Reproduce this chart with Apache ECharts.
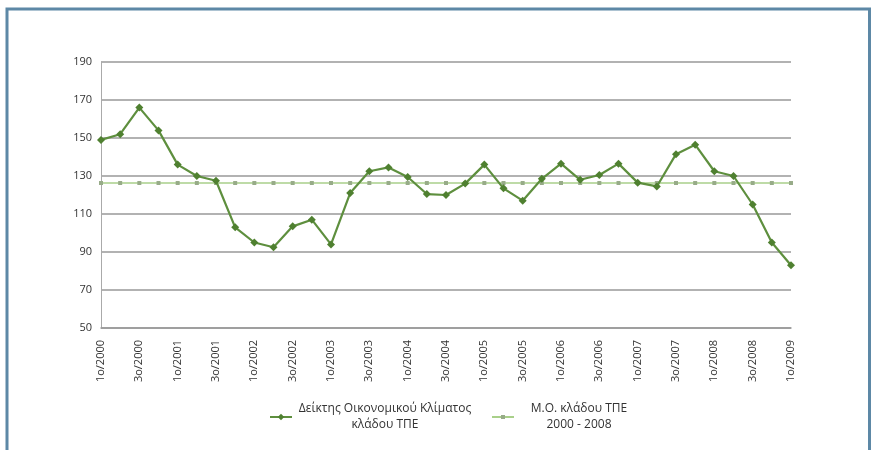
<!DOCTYPE html>
<html>
<head>
<meta charset="utf-8">
<script src="https://cdn.jsdelivr.net/npm/echarts@6/dist/echarts.min.js"></script>
<style>
  html, body { margin: 0; padding: 0; background: #fff; }
  #chart { width: 877px; height: 450px; }
</style>
</head>
<body>
<div id="chart"></div>
<script>
// quarters 1ο/2000 .. 1ο/2009
var quarters = [
  '1ο/2000', '2ο/2000', '3ο/2000', '4ο/2000',
  '1ο/2001', '2ο/2001', '3ο/2001', '4ο/2001',
  '1ο/2002', '2ο/2002', '3ο/2002', '4ο/2002',
  '1ο/2003', '2ο/2003', '3ο/2003', '4ο/2003',
  '1ο/2004', '2ο/2004', '3ο/2004', '4ο/2004',
  '1ο/2005', '2ο/2005', '3ο/2005', '4ο/2005',
  '1ο/2006', '2ο/2006', '3ο/2006', '4ο/2006',
  '1ο/2007', '2ο/2007', '3ο/2007', '4ο/2007',
  '1ο/2008', '2ο/2008', '3ο/2008', '4ο/2008',
  '1ο/2009'
];

// Δείκτης Οικονομικού Κλίματος κλάδου ΤΠΕ
var indexValues = [
  149, 152, 166, 154,
  136, 130, 127.5, 103,
  95, 92.5, 103.5, 107,
  94, 121, 132.5, 134.5,
  129.5, 120.5, 120, 126,
  136, 123.5, 117, 128.5,
  136.5, 128, 130.5, 136.5,
  126.5, 124.5, 141.5, 146.5,
  132.5, 130, 115, 95,
  83
];

// Μ.Ο. κλάδου ΤΠΕ 2000 - 2008
var avgValues = [
  126.3, 126.3, 126.3, 126.3, 126.3, 126.3, 126.3, 126.3,
  126.3, 126.3, 126.3, 126.3, 126.3, 126.3, 126.3, 126.3,
  126.3, 126.3, 126.3, 126.3, 126.3, 126.3, 126.3, 126.3,
  126.3, 126.3, 126.3, 126.3, 126.3, 126.3, 126.3, 126.3,
  126.3, 126.3, 126.3, 126.3, 126.3
];

var yTicks = [50, 70, 90, 110, 130, 150, 170, 190];

var seriesNames = ['Δείκτης Οικονομικού Κλίματος\nκλάδου ΤΠΕ', 'Μ.Ο. κλάδου ΤΠΕ\n2000 - 2008'];

var font = 'Open Sans';

// each line of the legend text centred in a fixed-width box
function legendText(name) {
  return name.split('\n').map(function (s) { return '{c|' + s + '}'; }).join('\n');
}

function legendStyle(w) {
  return {
    fontFamily: font, color: '#333',
    rich: { c: { width: w, align: 'center', fontSize: 12, fontFamily: font, color: '#333', lineHeight: 16 } }
  };
}

var chart = echarts.init(document.getElementById('chart'));
chart.setOption({
  backgroundColor: '#fff',
  animation: false,
  graphic: [{
    type: 'rect',
    shape: { x: 7, y: 9, width: 862.5, height: 470 },
    style: { fill: 'none', stroke: '#5d88a6', lineWidth: 3 },
    silent: true
  }],
  grid: { left: 101, right: 86, top: 62, bottom: 122 },
  legend: [{
    data: [seriesNames[0]],
    left: 264, top: 398,
    itemWidth: 22, itemHeight: 8,
    formatter: legendText,
    textStyle: legendStyle(176)
  }, {
    data: [seriesNames[1]],
    left: 486, top: 398,
    itemWidth: 22, itemHeight: 5,
    formatter: legendText,
    textStyle: legendStyle(120)
  }],
  xAxis: {
    type: 'category',
    data: quarters,
    boundaryGap: false,
    axisLine: { show: true, lineStyle: { color: '#999', width: 1.5 } },
    axisTick: { show: false },
    axisLabel: {
      interval: 1, rotate: 90, margin: 12,
      fontFamily: font, fontSize: 11, color: '#333'
    },
    splitLine: { show: false }
  },
  yAxis: {
    type: 'value',
    min: yTicks[0], max: yTicks[yTicks.length - 1], interval: 20,
    axisLine: { show: true, lineStyle: { color: '#aaa', width: 1 } },
    axisTick: { show: false },
    axisLabel: { margin: 9, fontFamily: font, fontSize: 11, color: '#333' },
    splitLine: { lineStyle: { color: '#999', width: 1.5 } }
  },
  series: [{
    name: seriesNames[0],
    type: 'line',
    data: indexValues,
    symbol: 'diamond',
    symbolSize: 8,
    lineStyle: { color: '#5e8f3e', width: 2.2 },
    itemStyle: { color: '#4f8030' },
    z: 3
  }, {
    name: seriesNames[1],
    type: 'line',
    data: avgValues,
    symbol: 'rect',
    symbolSize: 4,
    lineStyle: { color: '#a9d08a', width: 1.5 },
    itemStyle: { color: '#97ab88' },
    z: 2
  }]
});
</script>
</body>
</html>
